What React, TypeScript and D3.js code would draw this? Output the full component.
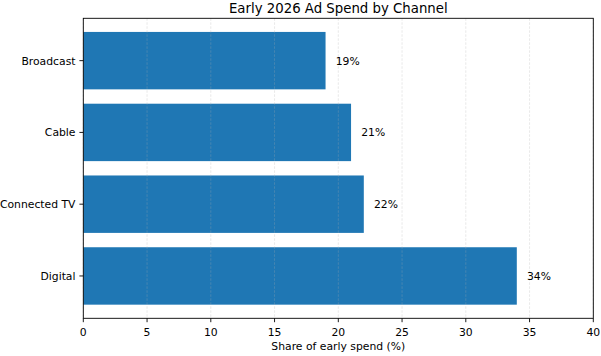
import React from "react";
import * as d3 from "d3";

const channels = ["Digital", "Connected TV", "Cable", "Broadcast"];
const shares = [34, 22, 21, 19];
const xTicks = [0, 5, 10, 15, 20, 25, 30, 35, 40];
const title = "Early 2026 Ad Spend by Channel";
const xLabel = "Share of early spend (%)";

export default function App() {
  const W = 601, H = 356;
  const left = 83.3, right = 593.3, top = 18.3, bottom = 318.3;
  const x = d3.scaleLinear().domain([0, 40]).range([left, right]);
  const y = d3.scaleLinear().domain([-0.59, 3.59]).range([bottom, top]);
  const font = "DejaVu Sans, sans-serif";
  const color = "#1f77b4";
  const h = 0.8;
  const fs = 10.8;
  const tick = 3.9;
  return (
    <svg width={W} height={H} style={{ position: "absolute", left: 0, top: 0, background: "#fff" }} fontFamily={font}>
      <rect x={0} y={0} width={W} height={H} fill="#fff" />
      {channels.map((c, i) => (
        <rect key={c} x={x(0)} y={y(i + h / 2)} width={x(shares[i]) - x(0)} height={y(i - h / 2) - y(i + h / 2)} fill={color} />
      ))}
      {xTicks.map((t) => (
        <line key={"g" + t} x1={x(t)} x2={x(t)} y1={top} y2={bottom} stroke="#b0b0b0" strokeOpacity={0.35} strokeWidth={0.8} strokeDasharray="2.5,1.5" />
      ))}
      <rect x={left} y={top} width={right - left} height={bottom - top} fill="none" stroke="#000" strokeWidth={0.9} />
      {xTicks.map((t) => (
        <g key={"t" + t}>
          <line x1={x(t)} x2={x(t)} y1={bottom} y2={bottom + tick} stroke="#000" strokeWidth={0.9} />
          <text x={x(t)} y={335.5} textAnchor="middle" fontSize={fs} fill="#000">{t}</text>
        </g>
      ))}
      {channels.map((c, i) => (
        <g key={"y" + c}>
          <line x1={left - tick} x2={left} y1={y(i)} y2={y(i)} stroke="#000" strokeWidth={0.9} />
          <text x={left - tick * 2} y={y(i)} dy="0.36em" textAnchor="end" fontSize={fs} fill="#000">{c}</text>
          <text x={x(shares[i] + 0.8)} y={y(i)} dy="0.36em" textAnchor="start" fontSize={fs} fill="#000">{shares[i]}%</text>
        </g>
      ))}
      <text x={(left + right) / 2} y={12.8} textAnchor="middle" fontSize={13.3} fill="#000">{title}</text>
      <text x={(left + right) / 2} y={350} textAnchor="middle" fontSize={fs} fill="#000">{xLabel}</text>
    </svg>
  );
}
